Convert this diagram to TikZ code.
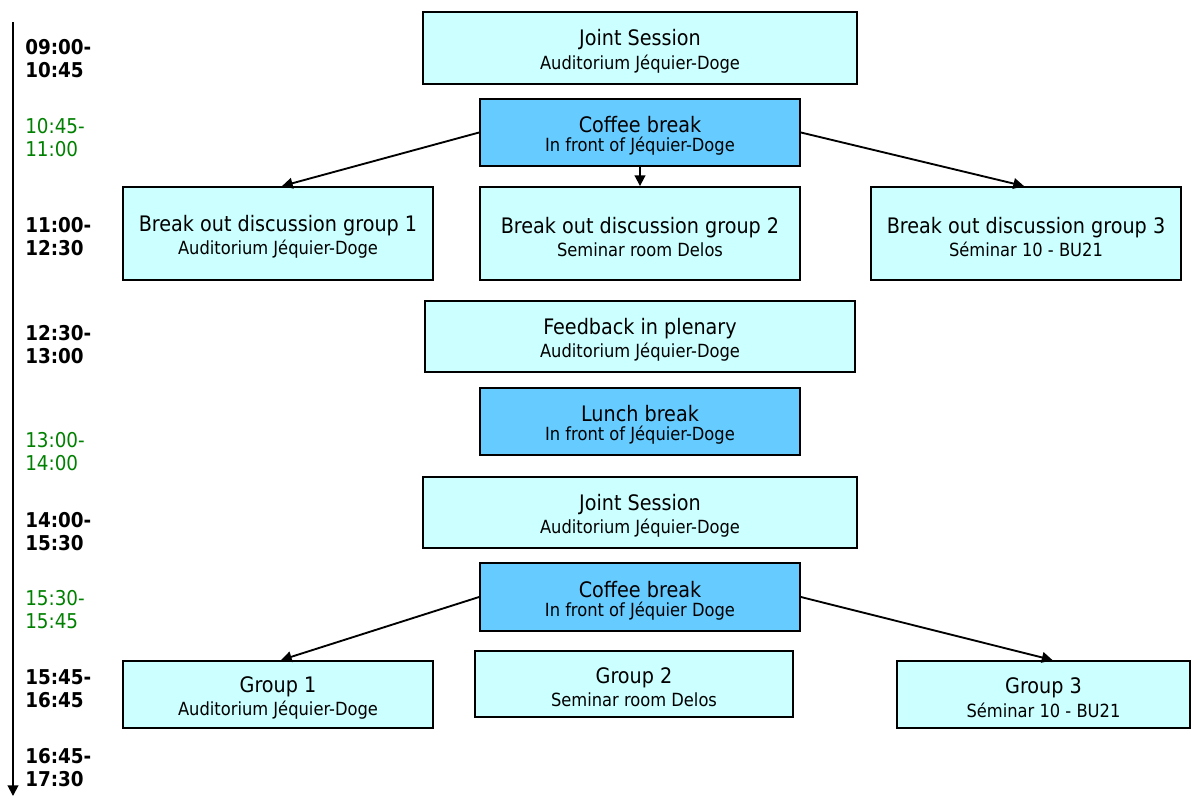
\documentclass[tikz,border=0pt]{standalone}
\usepackage{fontspec}
\setmainfont{DejaVu Sans Condensed}
\usetikzlibrary{calc,arrows.meta}
\definecolor{lightbox}{HTML}{CCFFFF}
\definecolor{darkbox}{HTML}{66CCFF}
\definecolor{timegreen}{HTML}{008000}
\newdimen\px \px=0.75pt
\newcommand{\mainsz}{\fontsize{16pt}{16pt}\selectfont}
\newcommand{\subsz}{\fontsize{13.6pt}{16pt}\selectfont}
\newcommand{\tsz}{\fontsize{15.3pt}{17.5pt}\selectfont}
\tikzset{
  box/.style={draw=black, line width=1.4pt, fill=lightbox, inner sep=0pt},
  dbox/.style={box, fill=darkbox},
  txt/.style={align=center, inner sep=0pt, yshift=-2.6pt},
  conn/.style={line width=1.4pt, -{Triangle[length=8pt,width=8pt]}},
  tmain/.style={anchor=north west, align=left, inner sep=0pt, font=\tsz\bfseries, text=black},
  tbreak/.style={anchor=north west, align=left, inner sep=0pt, font=\tsz, text=timegreen},
}
\newcommand{\bt}[2]{\mainsz #1\\[2.5pt]\subsz #2}
\begin{document}
\begin{tikzpicture}[x=0.75pt,y=-0.75pt]
\useasboundingbox (0,0) rectangle (1195,796);
% timeline
\coordinate (tl0) at (13,22);
\coordinate (tl1) at (13,796);
\draw[line width=1.4pt, -{Triangle[length=8pt,width=8pt]}] (tl0) -- (tl1);
% time labels
\node[tmain] (t1) at (25,39) {09:00-\\10:45};
\node[tbreak] (t2) at (25,118) {10:45-\\11:00};
\node[tmain] (t3) at (25,217) {11:00-\\12:30};
\node[tmain] (t4) at (25,325) {12:30-\\13:00};
\node[tbreak] (t5) at (25,432) {13:00-\\14:00};
\node[tmain] (t6) at (25,512) {14:00-\\15:30};
\node[tbreak] (t7) at (25,590) {15:30-\\15:45};
\node[tmain] (t8) at (25,669) {15:45-\\16:45};
\node[tmain] (t9) at (25,748) {16:45-\\17:30};
% boxes
\node[box, minimum width=434\px, minimum height=72\px, label={[txt]center:\bt{Joint Session}{Auditorium Jéquier-Doge}}] (js1) at (640,48) {};
\node[dbox, minimum width=320\px, minimum height=67\px, label={[txt]center:\bt{Coffee break}{In front of Jéquier-Doge}}] (cb1) at (640,132.5) {};
\node[box, minimum width=310\px, minimum height=93\px, label={[txt]center:\bt{Break out discussion group 1}{Auditorium Jéquier-Doge}}] (bo1) at (278,233.5) {};
\node[box, minimum width=320\px, minimum height=93\px, label={[txt]center:\bt{Break out discussion group 2}{Seminar room Delos}}] (bo2) at (640,233.5) {};
\node[box, minimum width=310\px, minimum height=93\px, label={[txt]center:\bt{Break out discussion group 3}{Séminar 10 - BU21}}] (bo3) at (1026,233.5) {};
\node[box, minimum width=430\px, minimum height=71\px, label={[txt]center:\bt{Feedback in plenary}{Auditorium Jéquier-Doge}}] (fb) at (640,336.5) {};
\node[dbox, minimum width=320\px, minimum height=67\px, label={[txt]center:\bt{Lunch break}{In front of Jéquier-Doge}}] (lb) at (640,421.5) {};
\node[box, minimum width=434\px, minimum height=71\px, label={[txt]center:\bt{Joint Session}{Auditorium Jéquier-Doge}}] (js2) at (640,512.5) {};
\node[dbox, minimum width=320\px, minimum height=68\px, label={[txt]center:\bt{Coffee break}{In front of Jéquier Doge}}] (cb2) at (640,597) {};
\node[box, minimum width=310\px, minimum height=67\px, label={[txt]center:\bt{Group 1}{Auditorium Jéquier-Doge}}] (g1) at (278,694.5) {};
\node[box, minimum width=318\px, minimum height=66\px, label={[txt]center:\bt{Group 2}{Seminar room Delos}}] (g2) at (634,684) {};
\node[box, minimum width=293\px, minimum height=67\px, label={[txt]center:\bt{Group 3}{Séminar 10 - BU21}}] (g3) at (1043.5,694.5) {};
% connectors
\draw[conn] (cb1.west) -- ($(bo1.north)+(4,0)$);
\draw[conn] (cb1.south) -- (bo2.north);
\draw[conn] (cb1.east) -- ($(bo3.north)+(-2,0)$);
\draw[conn] (cb2.west) -- ($(g1.north)+(3,0)$);
\draw[conn] (cb2.east) -- ($(g3.north)+(9,0)$);
\end{tikzpicture}
\end{document}
